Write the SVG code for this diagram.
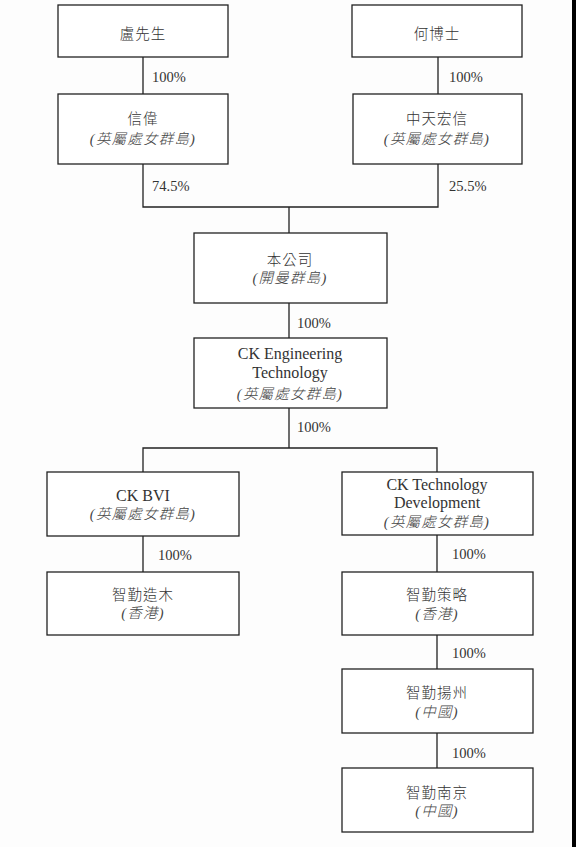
<svg xmlns="http://www.w3.org/2000/svg" width="576" height="847" viewBox="0 0 576 847">
<style>
.box{fill:#fff;stroke:#222;stroke-width:1.3}
.ln{fill:none;stroke:#222;stroke-width:1.3}
.zh{font-family:"Noto Sans CJK TC","Noto Sans CJK SC",sans-serif;font-size:14.5px;fill:#333;text-anchor:middle;dominant-baseline:central;letter-spacing:1px;font-weight:300}
.it{font-family:"Liberation Serif","Noto Sans CJK TC",serif;font-size:14.5px;fill:#444;text-anchor:middle;dominant-baseline:central;font-style:italic;letter-spacing:1.2px;font-weight:300}
.en{font-family:"Liberation Serif",serif;font-size:16px;fill:#333;text-anchor:middle;dominant-baseline:central}
.pc{font-family:"Liberation Serif",serif;font-size:14.5px;fill:#333;dominant-baseline:central}
</style>
<rect x="0" y="0" width="576" height="847" fill="#fdfdfd"/>
<rect x="572" y="0" width="4" height="847" fill="#000"/>
<g id="connectors">
<path class="ln" d="M143 57V94M438 57V94M143 164V207H438V164M289 207V233M289 303V338M289 408V448M143 472V448H437V472M143 536V572M437 535V572M437 635V669M437 733V768"/>
<text class="pc" x="152" y="77">100%</text>
<text class="pc" x="449" y="77">100%</text>
<text class="pc" x="152" y="186">74.5%</text>
<text class="pc" x="449" y="186">25.5%</text>
<text class="pc" x="297" y="323">100%</text>
<text class="pc" x="297" y="427">100%</text>
<text class="pc" x="158" y="555">100%</text>
<text class="pc" x="452" y="554">100%</text>
<text class="pc" x="452" y="653">100%</text>
<text class="pc" x="452" y="753">100%</text>
</g>
<g id="n1"><rect class="box" x="58" y="5" width="170" height="52"/><text class="zh" x="143" y="32">盧先生</text></g>
<g id="n2"><rect class="box" x="352" y="5" width="170" height="52"/><text class="zh" x="437" y="32">何博士</text></g>
<g id="n3"><rect class="box" x="58" y="94" width="170" height="70"/><text class="zh" x="143" y="117">信偉</text><text class="it" x="143" y="139">(英屬處女群島)</text></g>
<g id="n4"><rect class="box" x="353" y="94" width="169" height="70"/><text class="zh" x="437" y="117">中天宏信</text><text class="it" x="437" y="139">(英屬處女群島)</text></g>
<g id="n5"><rect class="box" x="194" y="233" width="193" height="70"/><text class="zh" x="290" y="258">本公司</text><text class="it" x="290" y="278">(開曼群島)</text></g>
<g id="n6"><rect class="box" x="194" y="338" width="193" height="70"/><text class="en" x="290" y="353">CK Engineering</text><text class="en" x="290" y="372">Technology</text><text class="it" x="290" y="394">(英屬處女群島)</text></g>
<g id="n7"><rect class="box" x="47" y="472" width="192" height="64"/><text class="en" x="143" y="495">CK BVI</text><text class="it" x="143" y="514">(英屬處女群島)</text></g>
<g id="n8"><rect class="box" x="342" y="472" width="191" height="63"/><text class="en" x="437" y="484">CK Technology</text><text class="en" x="437" y="502">Development</text><text class="it" x="437" y="522">(英屬處女群島)</text></g>
<g id="n9"><rect class="box" x="47" y="572" width="192" height="63"/><text class="zh" x="143" y="593">智勤造木</text><text class="it" x="143" y="613">(香港)</text></g>
<g id="n10"><rect class="box" x="342" y="572" width="191" height="63"/><text class="zh" x="437" y="593">智勤策略</text><text class="it" x="437" y="614">(香港)</text></g>
<g id="n11"><rect class="box" x="342" y="669" width="191" height="64"/><text class="zh" x="437" y="691">智勤揚州</text><text class="it" x="437" y="712">(中國)</text></g>
<g id="n12"><rect class="box" x="342" y="768" width="191" height="64"/><text class="zh" x="437" y="791">智勤南京</text><text class="it" x="437" y="811">(中國)</text></g>
</svg>
